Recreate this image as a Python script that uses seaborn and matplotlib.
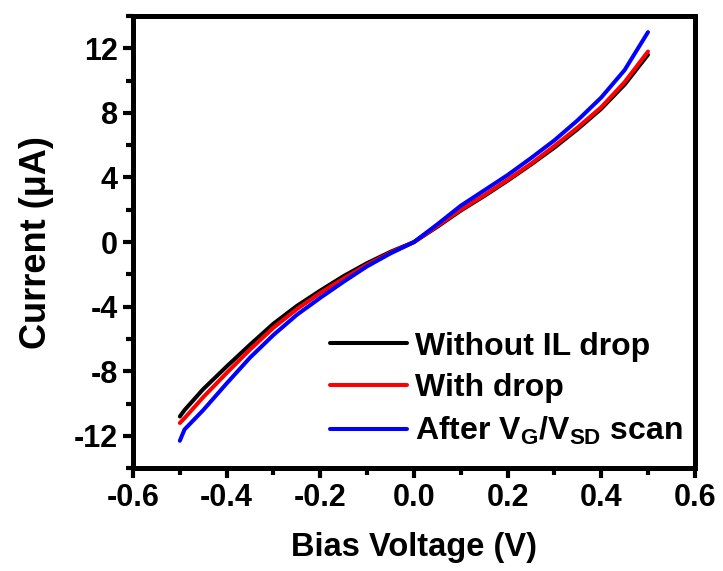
import numpy as np
import pandas as pd
import matplotlib
matplotlib.use("Agg")
import matplotlib.pyplot as plt
from matplotlib.ticker import MultipleLocator
import seaborn as sns

voltage = [-0.5, -0.49, -0.45, -0.4, -0.35, -0.3, -0.25, -0.2, -0.15, -0.1, -0.05, 0.0,
           0.05, 0.1, 0.15, 0.2, 0.25, 0.3, 0.35, 0.4, 0.45, 0.5]
without_il = [-10.8, -10.4, -9.1, -7.7, -6.35, -5.05, -3.95, -3.0, -2.1, -1.3, -0.6, 0.0,
              0.95, 1.95, 2.85, 3.8, 4.8, 5.85, 7.0, 8.25, 9.75, 11.6]
with_drop = [-11.2, -10.9, -9.6, -8.1, -6.65, -5.3, -4.15, -3.15, -2.25, -1.4, -0.65, 0.0,
             1.0, 2.0, 2.9, 3.85, 4.85, 5.95, 7.1, 8.35, 9.9, 11.8]
after_scan = [-12.3, -11.6, -10.4, -8.75, -7.15, -5.75, -4.5, -3.45, -2.45, -1.5, -0.7, 0.0,
              1.1, 2.25, 3.2, 4.15, 5.2, 6.3, 7.55, 8.95, 10.65, 13.0]
labels = ["Without IL drop", "With drop", r"After V$_{G}$/V$_{SD}$ scan"]
colors = ["#000000", "#ff0000", "#0000ff"]
x_ticks = [-0.6, -0.4, -0.2, 0.0, 0.2, 0.4, 0.6]
y_ticks = [-12, -8, -4, 0, 4, 8, 12]

sns.set_style("ticks")
plt.rcParams["font.family"] = ["Liberation Sans", "DejaVu Sans"]
plt.rcParams["font.weight"] = "bold"
plt.rcParams["mathtext.fontset"] = "custom"
plt.rcParams["mathtext.rm"] = "Liberation Sans:bold"
plt.rcParams["mathtext.it"] = "Liberation Sans:bold"
plt.rcParams["mathtext.bf"] = "Liberation Sans:bold"
plt.rcParams["text.color"] = "black"
plt.rcParams["axes.labelcolor"] = "black"
plt.rcParams["xtick.color"] = "black"
plt.rcParams["ytick.color"] = "black"
plt.rcParams["axes.edgecolor"] = "black"
plt.rcParams["lines.solid_joinstyle"] = "round"
plt.rcParams["lines.solid_capstyle"] = "round"

df = pd.concat([
    pd.DataFrame({"V": voltage, "I": vals, "series": lab})
    for vals, lab in zip([without_il, with_drop, after_scan], labels)
])

fig = plt.figure(figsize=(7.23, 5.71), dpi=100)
ax = fig.add_axes([0.184, 0.180, 0.777, 0.792])
sns.lineplot(data=df, x="V", y="I", hue="series", hue_order=labels,
             palette=colors, linewidth=2.9, ax=ax, sort=False)

ax.set_xlim(-0.6, 0.6)
ax.set_ylim(-14, 14)
ax.set_xticks(x_ticks)
ax.set_yticks(y_ticks)
ax.set_xticklabels([f"{t:.1f}" for t in x_ticks])
ax.set_yticklabels([str(t) for t in y_ticks])
ax.xaxis.set_minor_locator(MultipleLocator(0.1))
ax.yaxis.set_minor_locator(MultipleLocator(2))
ax.tick_params(which="major", direction="out", length=7, width=3, labelsize=22, pad=4,
               colors="black")
ax.tick_params(which="minor", direction="out", length=5, width=3, colors="black")
for s in ax.spines.values():
    s.set_linewidth(3.6)
    s.set_visible(True)
    s.set_color("black")

ax.set_xlabel("Bias Voltage (V)", fontsize=23.5, fontweight="bold", labelpad=13,
              color="black")
ax.set_ylabel("Current (μA)", fontsize=26, fontweight="bold", labelpad=14,
              color="black")

leg = ax.legend(loc="lower right", bbox_to_anchor=(1.012, 0.004), frameon=False,
                fontsize=23, handlelength=2.4, handletextpad=0.25,
                labelspacing=0.37, borderaxespad=0.2)
for line in leg.get_lines():
    line.set_linewidth(2.9)
for t in leg.get_texts():
    t.set_color("black")

fig.savefig("out.png", dpi=100)
